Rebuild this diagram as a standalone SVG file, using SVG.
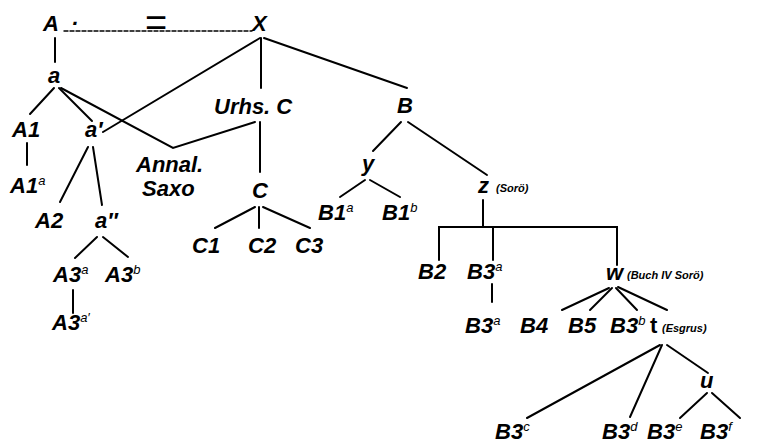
<svg xmlns="http://www.w3.org/2000/svg" width="759" height="444" viewBox="0 0 759 444">
<style>
text{font-family:"Liberation Sans",Arial,sans-serif;font-style:italic;font-weight:bold;font-size:22px;fill:#000}
.sm{font-size:11px}
.sup{font-size:13px;font-weight:normal}
#connectors line,#connectors polyline{stroke:#000;stroke-width:2;fill:none;stroke-linecap:round}
.dash{stroke-dasharray:4 2;stroke-width:1.4!important}
</style>
<rect width="759" height="444" fill="#fff"/>
<g id="connectors">
<line class="dash" x1="64" y1="31" x2="252" y2="31"/>
<line x1="55" y1="38" x2="55" y2="62"/>
<line x1="54" y1="88" x2="30" y2="114"/>
<line x1="59" y1="88" x2="92" y2="121"/>
<polyline points="61,88 173,148 255,122"/>
<line x1="260" y1="38" x2="103" y2="132"/>
<line x1="261" y1="38" x2="261" y2="88"/>
<line x1="264" y1="38" x2="407" y2="88"/>
<line x1="27" y1="143" x2="27" y2="165"/>
<line x1="88" y1="147" x2="60" y2="202"/>
<line x1="93" y1="147" x2="102" y2="205"/>
<line x1="97" y1="237" x2="75" y2="258"/>
<line x1="103" y1="237" x2="128" y2="257"/>
<line x1="73" y1="290" x2="73" y2="313"/>
<line x1="260" y1="122" x2="260" y2="172"/>
<line x1="255" y1="207" x2="215" y2="228"/>
<line x1="259" y1="207" x2="259" y2="228"/>
<line x1="263" y1="207" x2="310" y2="228"/>
<line x1="401" y1="122" x2="373" y2="151"/>
<line x1="408" y1="122" x2="487" y2="175"/>
<line x1="365" y1="180" x2="340" y2="197"/>
<line x1="370" y1="180" x2="400" y2="197"/>
<line x1="483" y1="200" x2="483" y2="227"/>
<polyline points="439,260 439,227 617,227 617,265"/>
<line x1="493" y1="227" x2="493" y2="260"/>
<line x1="492" y1="284" x2="492" y2="302"/>
<line x1="609" y1="288" x2="562" y2="310"/>
<line x1="612" y1="288" x2="590" y2="310"/>
<line x1="616" y1="288" x2="637" y2="310"/>
<line x1="618" y1="287" x2="667" y2="310"/>
<line x1="660" y1="345" x2="527" y2="418"/>
<line x1="662" y1="345" x2="630" y2="417"/>
<line x1="667" y1="345" x2="708" y2="373"/>
<line x1="707" y1="393" x2="680" y2="418"/>
<line x1="712" y1="393" x2="740" y2="418"/>
</g>
<g id="A"><text x="43" y="31">A<tspan dx="12">·</tspan></text></g>
<g id="eq"><text x="156" y="36" text-anchor="middle" style="font-style:normal;font-weight:normal;font-size:38px">=</text></g>
<g id="X"><text x="252" y="31">X</text></g>
<g id="a"><text x="48" y="83">a</text></g>
<g id="A1"><text x="12" y="137">A1</text></g>
<g id="a1"><text x="85" y="137">a′</text></g>
<g id="UrhsC"><text x="214" y="114">Urhs. C</text></g>
<g id="B"><text x="397" y="113">B</text></g>
<g id="AnnalSaxo"><text x="136" y="172">Annal.</text><text x="142" y="196">Saxo</text></g>
<g id="A1a"><text x="10" y="193">A1<tspan class="sup" dy="-8">a</tspan></text></g>
<g id="C"><text x="252" y="198">C</text></g>
<g id="y"><text x="362" y="171">y</text></g>
<g id="B1a"><text x="318" y="220">B1<tspan class="sup" dy="-8">a</tspan></text></g>
<g id="B1b"><text x="382" y="220">B1<tspan class="sup" dy="-8">b</tspan></text></g>
<g id="z"><text x="478" y="193">z</text><text class="sm" x="496" y="192">(Sorö)</text></g>
<g id="C1"><text x="192" y="253">C1</text></g>
<g id="C2"><text x="248" y="253">C2</text></g>
<g id="C3"><text x="295" y="253">C3</text></g>
<g id="A2"><text x="35" y="228">A2</text></g>
<g id="a2"><text x="95" y="228">a″</text></g>
<g id="A3a"><text x="53" y="282">A3<tspan class="sup" dy="-8">a</tspan></text></g>
<g id="A3b"><text x="105" y="282">A3<tspan class="sup" dy="-8">b</tspan></text></g>
<g id="A3a2"><text x="52" y="330">A3<tspan class="sup" dy="-8">a′</tspan></text></g>
<g id="B2"><text x="418" y="279">B2</text></g>
<g id="B3a"><text x="467" y="279">B3<tspan class="sup" dy="-8">a</tspan></text></g>
<g id="w"><text x="606" y="280">w</text><text class="sm" x="627" y="279">(Buch IV Sorö)</text></g>
<g id="B3a2"><text x="465" y="333">B3<tspan class="sup" dy="-8">a</tspan></text></g>
<g id="B4"><text x="520" y="333">B4</text></g>
<g id="B5"><text x="568" y="333">B5</text></g>
<g id="B3b"><text x="610" y="333">B3<tspan class="sup" dy="-8">b</tspan></text></g>
<g id="t"><text x="650" y="333" style="font-style:normal">t</text><text class="sm" x="662" y="332">(Esgrus)</text></g>
<g id="u"><text x="700" y="388">u</text></g>
<g id="B3c"><text x="495" y="439">B3<tspan class="sup" dy="-8">c</tspan></text></g>
<g id="B3d"><text x="602" y="439">B3<tspan class="sup" dy="-8">d</tspan></text></g>
<g id="B3e"><text x="647" y="439">B3<tspan class="sup" dy="-8">e</tspan></text></g>
<g id="B3f"><text x="700" y="439">B3<tspan class="sup" dy="-8">f</tspan></text></g>
</svg>
